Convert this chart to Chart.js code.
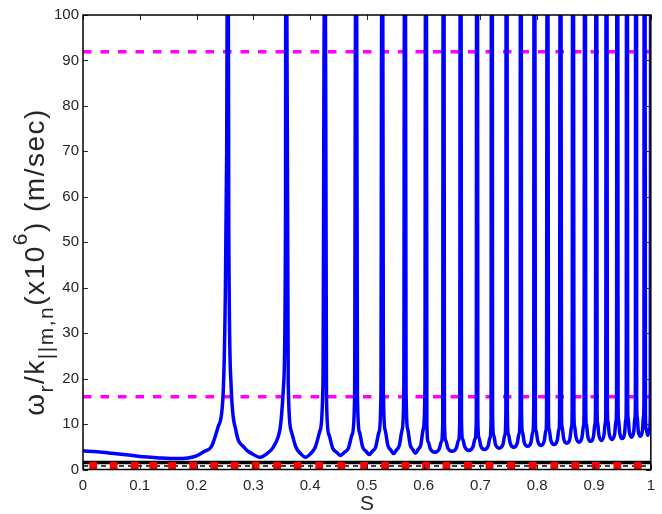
<!DOCTYPE html>
<html>
<head>
<meta charset="utf-8">
<script src="https://cdn.jsdelivr.net/npm/chart.js@4.4.1/dist/chart.umd.min.js"></script>
<style>
    html, body { margin: 0; padding: 0; background: #ffffff; }
</style>
</head>
<body>
<canvas id="dispersionchart" width="662" height="514"></canvas>
<script>
"use strict";

/* axis ticks */
var xTickValues = [0, 0.1, 0.2, 0.3, 0.4, 0.5, 0.6, 0.7, 0.8, 0.9, 1];
var xTickLabels = ['0', '0.1', '0.2', '0.3', '0.4', '0.5', '0.6', '0.7', '0.8', '0.9', '1'];
var yTickValues = [0, 10, 20, 30, 40, 50, 60, 70, 80, 90, 100];

/* blue curve: s values and omega_r/k (x10^6 m/sec), read arch by arch (102 = off the top) */
var blueS = [
    0, 0.025, 0.05, 0.08, 0.107, 0.135, 0.165, 0.185, 0.2, 0.214, 0.226, 0.238, 0.2465, 0.2505, 0.253, 0.254,
    0.256, 0.2567, 0.2607, 0.2693, 0.2835, 0.2978, 0.312, 0.3235, 0.335, 0.3465, 0.3534, 0.3566, 0.357,
    0.359, 0.3614, 0.3665, 0.375, 0.3835, 0.392, 0.4005, 0.409, 0.4175, 0.4226, 0.425,
    0.427, 0.4288, 0.4329, 0.4398, 0.4466, 0.4535, 0.4604, 0.4673, 0.4741, 0.4783, 0.480,
    0.482, 0.4833, 0.4868, 0.4925, 0.4983, 0.504, 0.5098, 0.5155, 0.5213, 0.5247, 0.526,
    0.528, 0.529, 0.532, 0.537, 0.542, 0.547, 0.552, 0.557, 0.562, 0.565, 0.566,
    0.568, 0.5689, 0.5716, 0.5763, 0.5809, 0.5855, 0.5901, 0.5948, 0.5994, 0.6022, 0.603,
    0.6049, 0.6056, 0.6079, 0.6118, 0.6195, 0.6273, 0.6311, 0.6335, 0.6341,
    0.6359, 0.6365, 0.6388, 0.6425, 0.65, 0.6575, 0.6613, 0.6635, 0.6641,
    0.6659, 0.6665, 0.6686, 0.6723, 0.6795, 0.6868, 0.6904, 0.6926, 0.6931,
    0.6949, 0.6953, 0.6973, 0.7005, 0.707, 0.7135, 0.7168, 0.7187, 0.7191,
    0.7209, 0.7213, 0.7233, 0.7265, 0.733, 0.7395, 0.7428, 0.7447, 0.7451,
    0.7469, 0.7473, 0.7491, 0.7523, 0.7585, 0.7648, 0.7679, 0.7698, 0.7701,
    0.7719, 0.7722, 0.774, 0.777, 0.783, 0.789, 0.792, 0.7938, 0.7941,
    0.7959, 0.7967, 0.7979, 0.8008, 0.8065, 0.8123, 0.8151, 0.8163, 0.8171,
    0.8189, 0.8197, 0.8209, 0.8238, 0.8295, 0.8353, 0.8381, 0.8393, 0.8401,
    0.8419, 0.8427, 0.8438, 0.8465, 0.852, 0.8575, 0.8603, 0.8614, 0.8621,
    0.8639, 0.8646, 0.8656, 0.8683, 0.8735, 0.8788, 0.8814, 0.8824, 0.8831,
    0.8849, 0.8855, 0.8865, 0.889, 0.894, 0.899, 0.9015, 0.9025, 0.9031,
    0.9049, 0.90535, 0.90625, 0.9085, 0.913, 0.9175, 0.91975, 0.92065, 0.9211,
    0.9229, 0.9234, 0.9244, 0.9268, 0.9315, 0.9363, 0.9386, 0.9396, 0.9401,
    0.9419, 0.9423, 0.9431, 0.9453, 0.9495, 0.9538, 0.9559, 0.9567, 0.9571,
    0.9589, 0.9592, 0.96, 0.962, 0.966, 0.97, 0.972, 0.9728, 0.9731,
    0.9749, 0.9751, 0.9759, 0.9778, 0.9815, 0.9853, 0.9871, 0.9879, 0.9881,
    0.9899, 0.9905, 0.9918, 0.99475, 0.9977, 0.999, 0.9996
];
var blueV = [
    4.1, 3.9, 3.6, 3.2, 2.8, 2.55, 2.4, 2.55, 3.0, 4.0, 5.0, 9.4, 16, 37, 70, 102,
    102, 54, 18.9, 8.6, 4.9, 3.46, 2.7, 3.46, 4.9, 8.6, 18.9, 54, 102,
    102, 18.9, 8.6, 4.9, 3.46, 2.7, 3.46, 4.9, 8.6, 18.9, 102,
    102, 15.5, 7.75, 4.65, 3.78, 3.1, 3.78, 4.65, 7.75, 15.5, 102,
    102, 16.5, 8.25, 4.95, 4.03, 3.3, 4.03, 4.95, 8.25, 16.5, 102,
    102, 17.5, 8.75, 5.25, 4.27, 3.5, 4.27, 5.25, 8.75, 17.5, 102,
    102, 18, 9, 5.4, 4.39, 3.6, 4.39, 5.4, 9, 18, 102,
    102, 9.9, 6.1, 4.5, 3.8, 4.5, 6.1, 9.9, 102,
    102, 10.4, 6.4, 4.7, 4.0, 4.7, 6.4, 10.4, 102,
    102, 10.9, 6.7, 5.0, 4.2, 5.0, 6.7, 10.9, 102,
    102, 11.4, 7.0, 5.2, 4.4, 5.2, 7.0, 11.4, 102,
    102, 12.2, 7.5, 5.5, 4.7, 5.5, 7.5, 12.2, 102,
    102, 12.7, 7.8, 5.8, 4.9, 5.8, 7.8, 12.7, 102,
    102, 13.3, 8.2, 6.0, 5.1, 6.0, 8.2, 13.3, 102,
    102, 11.1, 8.5, 6.3, 5.3, 6.3, 8.5, 11.1, 102,
    102, 11.6, 8.8, 6.5, 5.5, 6.5, 8.8, 11.6, 102,
    102, 12.2, 9.3, 6.8, 5.8, 6.8, 9.3, 12.2, 102,
    102, 12.6, 9.6, 7.1, 6.0, 7.1, 9.6, 12.6, 102,
    102, 13.0, 9.9, 7.3, 6.2, 7.3, 9.9, 13.0, 102,
    102, 13.4, 10.2, 7.6, 6.4, 7.6, 10.2, 13.4, 102,
    102, 13.9, 10.6, 7.8, 6.6, 7.8, 10.6, 13.9, 102,
    102, 14.3, 10.9, 8.0, 6.8, 8.0, 10.9, 14.3, 102,
    102, 14.9, 11.4, 8.4, 7.1, 8.4, 11.4, 14.9, 102,
    102, 15.3, 11.7, 8.6, 7.3, 8.6, 11.7, 15.3, 102,
    102, 12.0, 8.9, 7.5, 8.9, 12.0, 102
];

/* horizontal reference lines */
var magentaLevels = [91.9, 16.0];
var bandLevel = 1.55;
var markerLevel = 0.77;
var markerS = [0.018, 0.054, 0.091, 0.124, 0.157, 0.194, 0.231, 0.267, 0.304, 0.342, 0.378, 0.416, 0.455, 0.495,
    0.532, 0.568, 0.604, 0.640, 0.678, 0.716, 0.754, 0.792, 0.830, 0.867, 0.903, 0.941, 0.977];

function pairs(xs, ys) {
    return xs.map(function (x, i) { return { x: x, y: ys[i] }; });
}
function flat(level) {
    return [{ x: 0, y: level }, { x: 1, y: level }];
}

Chart.defaults.font.family = '"Liberation Sans", Arial, Helvetica, sans-serif';
Chart.defaults.color = '#262626';

/* inside ticks, box and axis titles like the matlab figure */
var matlabAxes = {
    id: 'matlabAxes',
    afterDatasetsDraw: function (chart) {
        var ctx = chart.ctx;
        var area = chart.chartArea;
        var xs = chart.scales.x;
        var ys = chart.scales.y;
        ctx.save();
        ctx.strokeStyle = '#262626';
        ctx.lineWidth = 1;
        ctx.beginPath();
        xs.ticks.forEach(function (t) {
            var px = Math.round(xs.getPixelForValue(t.value)) + 0.5;
            ctx.moveTo(px, area.bottom); ctx.lineTo(px, area.bottom - 5);
            ctx.moveTo(px, area.top); ctx.lineTo(px, area.top + 5);
        });
        ys.ticks.forEach(function (t) {
            var py = Math.round(ys.getPixelForValue(t.value)) + 0.5;
            ctx.moveTo(area.left, py); ctx.lineTo(area.left + 5, py);
            ctx.moveTo(area.right, py); ctx.lineTo(area.right - 5, py);
        });
        ctx.stroke();
        ctx.strokeStyle = '#000000';
        ctx.lineWidth = 1.5;
        ctx.strokeRect(area.left, area.top, area.right - area.left, area.bottom - area.top);
        ctx.restore();
    },
    afterDraw: function (chart) {
        var ctx = chart.ctx;
        var area = chart.chartArea;
        var fam = Chart.defaults.font.family;
        ctx.save();
        ctx.fillStyle = '#262626';
        ctx.font = '21px ' + fam;
        ctx.textAlign = 'center';
        ctx.textBaseline = 'middle';
        ctx.fillText('S', (area.left + area.right) / 2, 504);

        /* y title with sub and superscripts, drawn bottom to top */
        var parts = [
            { text: 'ω', size: 28, shift: 0 },
            { text: 'r', size: 21, shift: 9 },
            { text: '/k', size: 28, shift: 0 },
            { text: '||m,n', size: 21, shift: 9 },
            { text: '(x10', size: 28, shift: 0 },
            { text: '6', size: 21, shift: -17 },
            { text: ') (m/sec)', size: 28, shift: 0 }
        ];
        ctx.letterSpacing = '1.5px';
        var total = 0;
        parts.forEach(function (p) {
            ctx.font = p.size + 'px ' + fam;
            p.w = ctx.measureText(p.text).width;
            total += p.w;
        });
        ctx.translate(44, 262);
        ctx.rotate(-Math.PI / 2);
        ctx.textAlign = 'left';
        ctx.textBaseline = 'alphabetic';
        var x = -total / 2;
        parts.forEach(function (p) {
            ctx.font = p.size + 'px ' + fam;
            ctx.fillText(p.text, x, p.shift);
            x += p.w;
        });
        ctx.restore();
    }
};

var ctxDisp = document.getElementById('dispersionchart').getContext('2d');

var dispConfig = {
    type: 'line',
    data: {
        datasets: [{
            label: 'omega_r / k',
            data: pairs(blueS, blueV),
            borderColor: '#0000ff',
            borderWidth: 3.5,
            pointRadius: 0,
            cubicInterpolationMode: 'monotone',
            fill: false,
        },
        {
            label: 'markers',
            data: markerS.map(function (s) { return { x: s, y: markerLevel }; }),
            showLine: false,
            pointStyle: 'rect',
            pointRadius: 5.5,
            pointBorderWidth: 0,
            pointBackgroundColor: '#ff0000',
            borderColor: '#ff0000',
        },
        {
            label: 'dashed band',
            data: flat(markerLevel),
            borderColor: '#000000',
            borderWidth: 1.5,
            borderDash: [5, 4],
            pointRadius: 0,
        },
        {
            label: 'band',
            data: flat(bandLevel),
            borderColor: '#000000',
            borderWidth: 3.5,
            pointRadius: 0,
        },
        {
            label: 'upper',
            data: flat(magentaLevels[0]),
            borderColor: '#ff00ff',
            borderWidth: 3.5,
            borderDash: [8.5, 9],
            pointRadius: 0,
        },
        {
            label: 'lower',
            data: flat(magentaLevels[1]),
            borderColor: '#ff00ff',
            borderWidth: 3.5,
            borderDash: [8.5, 9],
            pointRadius: 0,
        }]
    },
    options: {
        responsive: false,
        animation: false,
        devicePixelRatio: 1,
        layout: {
            padding: { top: 15, right: 3, left: 0, bottom: 0 }
        },
        plugins: {
            legend: { display: false },
            tooltip: { enabled: false },
        },
        scales: {
            x: {
                type: 'linear',
                min: 0,
                max: 1,
                grid: { display: false, drawTicks: false },
                border: { display: false },
                afterBuildTicks: function (scale) {
                    scale.ticks = xTickValues.map(function (v) { return { value: v }; });
                },
                afterFit: function (scale) { scale.height = 44.5; },
                ticks: {
                    padding: 7,
                    maxRotation: 0,
                    font: { size: 15 },
                    callback: function (value, index) { return xTickLabels[index]; }
                }
            },
            y: {
                min: 0,
                max: 100,
                grid: { display: false, drawTicks: false },
                border: { display: false },
                afterBuildTicks: function (scale) {
                    scale.ticks = yTickValues.map(function (v) { return { value: v }; });
                },
                afterFit: function (scale) { scale.width = 83; },
                ticks: {
                    padding: 4,
                    font: { size: 15 },
                }
            }
        }
    },
    plugins: [matlabAxes]
};
var dispChart = new Chart(ctxDisp, dispConfig);
</script>
</body>
</html>
